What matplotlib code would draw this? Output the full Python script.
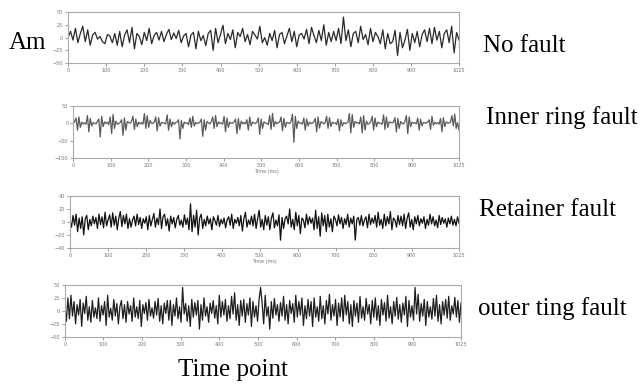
import matplotlib
matplotlib.use("Agg")
import matplotlib.pyplot as plt
import numpy as np

# amplitude (coarse samples over 0..1025)
no_fault = [0, 12, -5, 18, -10, 8, 22, -8, 15, -15, 5, 10, -3, 2, -8, -12, 6, 3, -10, 8,
            -15, 12, -18, 5, 15, -10, 20, -22, 8, 2, -14, 10, -6, 18, -12, 4, 10, -5, 12, -8,
            6, 16, -4, 9, -2, 14, -10, 3, 8, -18, 5, 10, -22, 12, -6, 4, -16, 8, 14, -25,
            18, -10, 6, 24, -12, 8, -4, 15, -20, 10, 2, 18, -8, 6, -14, 12, 5, -3, 22, -10,
            0, -15, 8, -6, 14, -20, 6, 10, -12, 3, 18, -8, 12, -18, 5, 8, -3, 16, -12, 20,
            4, -10, 14, -6, 25, -15, 10, -8, 12, -6, 18, -12, 40, -6, 15, -18, 8, 12, -10, 22,
            -4, 6, -14, 18, -8, 10, 2, -12, 15, -22, 8, -12, -8, 14, -35, 10, -20, -5, 16, -25,
            8, -10, 12, -18, 6, 15, -8, 18, -12, 20, -5, 12, -20, 8, 15, -10, 22, -30, 10, -5]

inner_ring = [0, 4, 15, -20, 18, -12, 3, -2,   1, -3, 22, -25, 14, -8, 2, 0,
              -2, 5, 12, -40, 20, -10, 4, -1,  3, -4, 18, -30, 25, -15, 6, -3,
              -1, 2, 10, -35, 15, -20, 5, 2,   0, 6, 20, -18, 12, -10, 3, -2,
              2, -3, 28, -15, 22, -12, 8, 0,   -1, 4, 18, -22, 16, -8, 2, 1,
              0, -2, 24, -20, 12, -10, 4, -3,  2, 3, 10, -45, 8, -15, 3, 0,
              1, -4, 15, -12, 20, -8, 2, -1,   0, 3, 12, -38, 10, -20, 5, 1,
              -2, 5, 18, -15, 22, -10, 4, -1,  1, -3, 20, -25, 15, -12, 3, 0,
              0, 4, 12, -30, 14, -18, 6, -2,   2, -2, 10, -20, 18, -8, 3, 1,
              -1, 3, 15, -32, 12, -15, 4, 0,   0, -4, 22, -18, 28, -10, 5, -2,
              2, 3, 18, -22, 14, -12, 2, 1,    -1, 5, 26, -55, 20, -15, 6, 0,
              1, -3, 15, -20, 12, -8, 3, -1,   0, 4, 14, -25, 18, -14, 4, 2,
              -2, 2, 20, -15, 16, -10, 3, 0,   1, -4, 12, -22, 10, -8, 2, -1,
              0, 3, 28, -28, 25, -12, 5, 1,    2, -2, 18, -28, 22, -20, 6, -3,
              -1, 4, 20, -20, 15, -10, 3, 0,   0, -3, 24, -18, 18, -12, 4, 2,
              1, 3, 16, -25, 14, -15, 5, -1,   -2, 5, 22, -30, 18, -10, 3, 0,
              1, -2, 15, -20, 12, -8, 2, 1,    0, 4, 10, -18, 20, -6, 3, -2,
              2, -3, 14, -25, 16, -10, 4, 0,   1, 3, 22, -8, 26, -15, 2, -20]

retainer = [2, -8, 10, -5, 12, -15, 6, -10, 8, -20, 5, 10, -12, 4, -6, 9, -3, 7, -10, 12,
            -4, 8, -9, 15, -6, 3, 11, -8, 14, -5, 9, -12, 6, 16, -7, 10, -3, 12, -10, 5,
            -8, 3, 9, -6, 12, -4, 7, -10, 5, -2, 8, -12, 10, -6, 4, 13, -8, 6, -4, 20,
            -10, 8, 12, -6, 5, -14, 9, -3, 7, -9, 4, 10, -5, 3, -8, 11, -4, 6, -12, 28,
            -15, 10, -8, 18, -20, 6, 12, -10, 4, -6, 9, -3, 5, -12, 8, 2, -5, 10, -7, 4,
            -3, 6, -9, 3, 8, -5, 12, -10, 4, -2, 7, -6, 10, -14, 5, 15, -8, 3, -4, 9,
            -6, 12, -10, 5, 18, -8, 4, -12, 10, -5, 8, -12, 6, 14, -9, 3, -6, 11, -28, 7,
            -10, 5, 9, -3, 20, -8, 4, -12, 15, -6, 10, -18, 6, 3, -9, 12, -4, 8, -2, 6,
            -12, 18, -10, 8, -22, 14, -6, 10, -15, 12, -8, 5, -15, 9, 4, -6, 11, -3, 7, -10,
            5, -4, 12, -8, 6, -3, 9, -28, 4, 7, -5, 10, -6, 3, 8, -9, 12, -4, 6, -2,
            10, -8, 15, -5, 4, -10, 12, -6, 8, -3, 16, -12, 6, 3, -8, 10, -4, 9, -6, 12,
            -10, 6, 14, -8, 4, -12, 8, -3, 10, -6, 5, -2, 8, -10, 4, -5, 12, -3, 8, -6,
            3, -9, 10, -4, 7, -2, 5, -8, 6, -3, 9, -5, 4, -6, 8, -2]

outer_ring = [10, -20, 25, -15, 30, -10, 18, -25, 12, -8, 22, -30, 15, -5, 28, -18, 8, -22, 20, -12,
              6, -15, 25, -20, 10, -8, 18, -28, 30, -12, 5, -18, 22, -10, 14, -25, 8, 20, -15, 12,
              -22, 18, -6, 10, -20, 25, -12, 8, -15, 20, -30, 12, -5, 16, -18, 22, -10, 6, -14, 18,
              -8, 24, -20, 10, -25, 15, -5, 20, -18, 20, -28, 12, -10, 25, -15, 8, -22, 45, -6, 14,
              -20, 10, -30, 22, -12, 16, -8, 20, -35, 12, -18, 25, -10, 8, -22, 15, -5, 20, -14, 10,
              -25, 30, -12, 18, -8, 22, -20, 10, -15, 28, -6, 35, -18, 12, -28, 20, -10, 22, -22, 14,
              -8, 25, -30, 18, -12, 10, -20, 22, 45, 15, -25, 30, -10, 8, -35, 18, -14, 24, -8, 12,
              -20, 16, -10, 28, -18, 12, -25, 20, -5, 14, -22, 30, -12, 18, -8, 25, -28, 10, -15, 22,
              -10, 18, -30, 25, -12, 8, -20, 28, -15, 10, -25, 20, -6, 32, -18, 12, -10, 22, -28, 15,
              -12, 25, -20, 30, -8, 18, -25, 12, -30, 20, -10, 15, -22, 28, -14, 8, -18, 24, -6, 12,
              -25, 20, -12, 25, -18, 10, -28, 22, -8, 16, -20, 30, -14, 8, -25, 18, -10, 26, -16, 12,
              -22, 15, -8, 28, -30, 20, -12, 10, -18, 45, -6, 32, -20, 14, -10, 22, -28, 18, -12, 8,
              -16, 24, -10, 30, -20, 12, -25, 18, -8, 22, -14, 28, -18, 10, -6, 26, -12, 20, -22, 15]

xticks = [0, 100, 200, 300, 400, 500, 600, 700, 800, 900, 1025]
labels = ["No fault", "Inner ring fault", "Retainer fault", "outer ting fault"]

panels = [
    # (rect, data, ylim, yticks, colour, xlabel)
    ([0.106, 0.836, 0.609, 0.133], no_fault, (-50, 50), [-50, -25, 0, 25, 50], "#2a2a2a", None),
    ([0.114, 0.590, 0.601, 0.135], inner_ring, (-100, 50), [-100, -50, 0, 50], "#5a5a5a", "Time (ms)"),
    ([0.109, 0.356, 0.606, 0.135], retainer, (-40, 40), [-40, -20, 0, 20, 40], "#111111", "Time (ms)"),
    ([0.101, 0.125, 0.617, 0.135], outer_ring, (-50, 50), [-50, -25, 0, 25, 50], "#1e1e1e", None),
]

fig = plt.figure(figsize=(6.42, 3.85), dpi=100)

for rect, data, ylim, yticks, colour, xlab in panels:
    ax = fig.add_axes(rect)
    t = np.linspace(0, 1025, len(data))
    ax.plot(t, data, color=colour, lw=0.9)
    ax.set_xlim(0, 1025)
    ax.set_ylim(*ylim)
    ax.set_xticks(xticks)
    ax.set_yticks(yticks)
    ax.tick_params(labelsize=3.5, colors="#777777", length=2, width=0.5, pad=1.5)
    for s in ax.spines.values():
        s.set_color("#aaaaaa")
        s.set_linewidth(0.8)
    if xlab:
        ax.set_xlabel(xlab, fontsize=3.5, color="#777777", labelpad=1)

serif = "Liberation Serif"
fig.text(9 / 642, 1 - 43 / 385, "Am", family=serif, fontsize=18, va="center", ha="left")
fig.text(233 / 642, 1 - 370 / 385, "Time point", family=serif, fontsize=18, va="center", ha="center")

label_pos = [(483, 46), (486, 118), (479, 210), (478, 309)]
for (px, py), txt in zip(label_pos, labels):
    fig.text(px / 642, 1 - py / 385, txt, family=serif, fontsize=18, va="center", ha="left")

fig.savefig("out.png", dpi=100)
